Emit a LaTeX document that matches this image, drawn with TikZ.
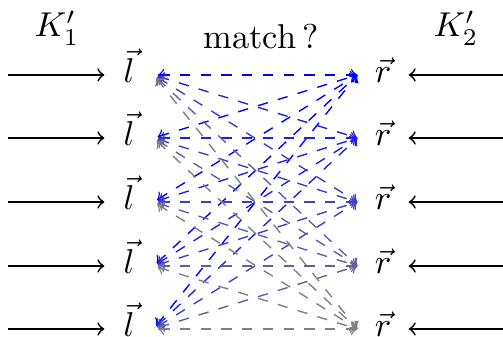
\documentclass[tikz,border=0pt]{standalone}
\begin{document}
\begin{tikzpicture}[x=0.29pt,y=-0.29pt,
  lbl/.style={inner sep=0pt},
  vecnode/.style={anchor=mid, inner sep=0pt, minimum height=10pt},
  feed/.style={->, line width=0.5pt},
  cand/.style={<->, dashed, shorten <=1.2pt}]
\useasboundingbox (0,0) rectangle (503,337);
\clip (0,0) rectangle (503,337);
\node[lbl] (k1) at (57,28) {$K'_1$};
\node[lbl] (k2) at (456,28) {$K'_2$};
\node[lbl] (m) at (261,37) {match\,?};
\foreach \yy [count=\i] in {75,138,202,266,329}{
  \coordinate (a\i) at (8,\yy);
  \coordinate (b\i) at (506,\yy);
  \node[vecnode, minimum width=13.9pt] (l\i) at (129,\yy) {$\vec{l}$};
  \node[vecnode, minimum width=14.5pt] (r\i) at (383,\yy) {$\vec{r}$};
  \draw[feed] (a\i) -- (l\i.mid west);
  \draw[feed] (b\i) -- (r\i.mid east);
}
\foreach \j in {1,...,5}{
  \pgfmathtruncatemacro\c{100-25*(\j-1)}
  \foreach \i in {1,...,5}{
    \draw[cand, color=blue!\c!gray] (l\i.mid east) -- (r\j.mid west);
  }
}
\end{tikzpicture}
\end{document}
